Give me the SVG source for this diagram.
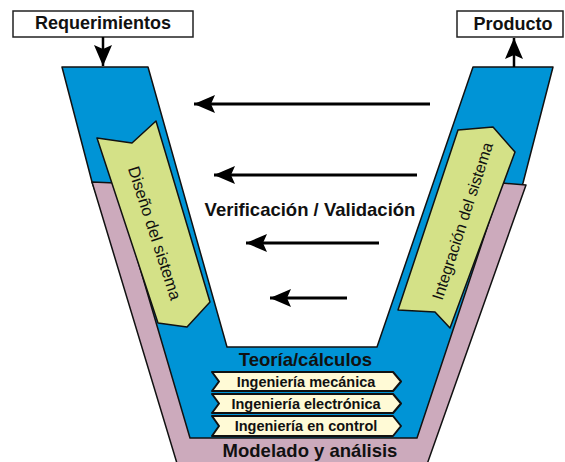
<svg xmlns="http://www.w3.org/2000/svg" width="565" height="462" viewBox="0 0 565 462">
<style>
text{font-family:"Liberation Sans",Arial,Helvetica,sans-serif;fill:#111}
.b{font-weight:bold}
.box{fill:#fff;stroke:#222;stroke-width:1.5}
.blue{fill:#0094D6;stroke:#111;stroke-width:1.5;stroke-linejoin:round}
.pink{fill:#CCAABC;stroke:#111;stroke-width:1.5;stroke-linejoin:round}
.green{fill:#D4E187;stroke:#111;stroke-width:1.5;stroke-linejoin:round}
.cream{fill:#FFFAD6;stroke:#111;stroke-width:2;stroke-linejoin:round}
.arr{fill:none;stroke:#000;stroke-width:3;marker-end:url(#ah)}
.arr2{fill:none;stroke:#000;stroke-width:2.5;marker-end:url(#ah)}
</style>
<defs>
<marker id="ah" markerUnits="userSpaceOnUse" markerWidth="22" markerHeight="19" refX="21" refY="9" orient="auto" viewBox="0 0 22 19">
<path d="M0,0 L21,9 L0,18 L4,9 Z" fill="#000"/>
</marker>
</defs>
<rect width="565" height="462" fill="#fff"/>
<g id="v-band">
<polygon class="blue" points="62,67 148,67 227,347 377,347 473,67 553,67 523,183 421,445 185,445 92,182"/>
</g>
<g id="modelado-band">
<polygon class="pink" points="92,182 115,183 190,438 417,438 502,183 526,185 425,470 179,470"/>
</g>
<g id="requerimientos">
<rect class="box" x="13" y="11" width="180" height="26"/>
<text class="b" x="103" y="29" font-size="18" text-anchor="middle">Requerimientos</text>
</g>
<g id="producto">
<rect class="box" x="457" y="11" width="106" height="26"/>
<text class="b" x="513" y="29.5" font-size="18" text-anchor="middle">Producto</text>
</g>
<g id="diseno">
<polygon class="green" points="97,138 132,143 156,121 210,302 187,327 158,323"/>
<text transform="translate(155,233) rotate(72)" y="6" font-size="16.5" text-anchor="middle">Diseño del sistema</text>
</g>
<g id="integracion">
<polygon class="green" points="458,130 493,127 515,152 450,328 435,312 398,310"/>
<text transform="translate(462,221) rotate(-72)" y="6" font-size="16" text-anchor="middle">Integración del sistema</text>
</g>
<g id="teoria">
<text class="b" x="305.5" y="366" font-size="18.5" text-anchor="middle">Teoría/cálculos</text>
</g>
<g id="ing-mecanica">
<path class="cream" d="M212,372 L393,372 L401,381.5 L393,391 L212,391 L219,381.5 Z"/>
<text class="b" x="306" y="386.5" font-size="14.5" text-anchor="middle">Ingeniería mecánica</text>
</g>
<g id="ing-electronica">
<path class="cream" d="M212,394 L393,394 L401,403.5 L393,413 L212,413 L219,403.5 Z"/>
<text class="b" x="306" y="408.5" font-size="14.5" text-anchor="middle">Ingeniería electrónica</text>
</g>
<g id="ing-control">
<path class="cream" d="M212,416 L393,416 L401,426 L393,436 L212,436 L219,426 Z"/>
<text class="b" x="306" y="431" font-size="14.5" text-anchor="middle">Ingeniería en control</text>
</g>
<g id="modelado">
<text class="b" x="310" y="457" font-size="18.5" text-anchor="middle">Modelado y análisis</text>
</g>
<g id="verificacion">
<text class="b" x="310" y="216" font-size="18.5" text-anchor="middle">Verificación / Validación</text>
</g>
<g id="connectors">
<line class="arr2" x1="103" y1="37" x2="103" y2="66"/>
<line class="arr2" x1="514" y1="67" x2="514" y2="38"/>
<line class="arr" x1="430" y1="104" x2="194" y2="104"/>
<line class="arr" x1="417" y1="175" x2="214" y2="175"/>
<line class="arr" x1="379" y1="243" x2="246" y2="243"/>
<line class="arr" x1="347" y1="298" x2="270" y2="298"/>
</g>
</svg>
